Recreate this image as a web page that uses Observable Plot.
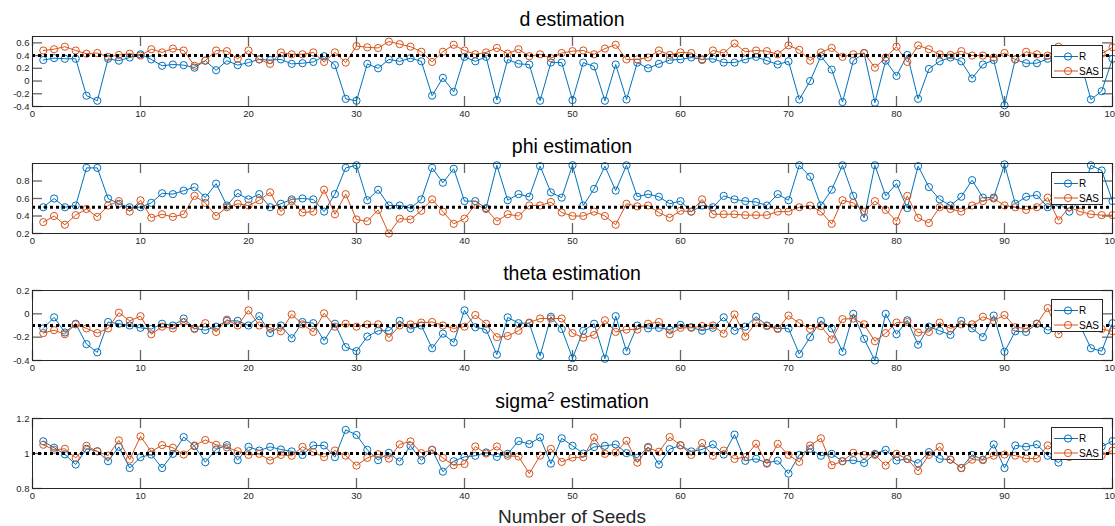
<!DOCTYPE html>
<html>
<head>
<meta charset="utf-8">
<script src="https://cdn.jsdelivr.net/npm/d3@7"></script>
<script src="https://cdn.jsdelivr.net/npm/@observablehq/plot@0.6"></script>
<style>
  html, body { margin: 0; padding: 0; background: #fff; overflow: hidden; }
  #wrap { position: relative; width: 1115px; height: 526px; font-family: "Liberation Sans", Arial, Helvetica, sans-serif; color: #262626; }
  .panel { position: absolute; left: 0; }
  .title { position: absolute; left: 32px; width: 1080px; text-align: center; font-size: 19.5px; line-height: 22px; color: #000; white-space: nowrap; }
  .title sup { font-size: 13px; line-height: 0; }
  .legend { position: absolute; left: 1051px; width: 52px; height: 33px; background: #fff; border: 1px solid #262626; box-sizing: border-box; }
  .xlabel { position: absolute; left: 32px; width: 1080px; text-align: center; font-size: 19px; line-height: 22px; color: #262626; top: 506px; }
</style>
</head>
<body>
<div id="wrap"></div>
<script>
// ---------- data ----------
const seeds = Array.from({length: 100}, (_, i) => i + 1);
const methods = ["R", "SAS"];
const xTicks = [0, 10, 20, 30, 40, 50, 60, 70, 80, 90, 100];

const dR = [0.33,0.36,0.35,0.35,-0.23,-0.31,0.35,0.32,0.37,0.42,
  0.34,0.24,0.26,0.25,0.21,0.32,0.17,0.32,0.25,0.29,
  0.34,0.33,0.34,0.27,0.28,0.30,0.39,0.25,-0.28,-0.31,
  0.27,0.20,0.34,0.31,0.36,0.31,-0.23,0.05,-0.17,0.38,
  0.31,0.38,-0.30,0.34,0.27,0.26,-0.31,0.29,0.29,-0.30,
  0.29,0.23,-0.31,0.26,-0.29,0.29,0.20,0.27,0.33,0.34,
  0.37,0.34,0.35,0.29,0.29,0.34,0.38,0.32,0.26,0.31,
  -0.29,0.00,0.39,0.18,-0.33,0.32,0.44,-0.34,0.32,0.08,
  0.41,-0.28,0.19,0.31,0.37,0.31,0.04,0.26,0.33,-0.38,
  0.34,0.28,0.28,0.35,0.36,0.30,0.33,-0.29,-0.16,0.35];
const dSAS = [0.48,0.50,0.54,0.48,0.43,0.44,0.38,0.41,0.43,0.40,
  0.50,0.45,0.51,0.48,0.24,0.32,0.48,0.47,0.35,0.48,
  0.34,0.27,0.45,0.42,0.42,0.45,0.30,0.45,0.29,0.55,
  0.53,0.52,0.62,0.58,0.54,0.46,0.30,0.46,0.57,0.48,
  0.42,0.45,0.52,0.43,0.50,0.39,0.42,0.36,0.44,0.47,
  0.48,0.42,0.51,0.57,0.34,0.34,0.37,0.48,0.41,0.45,
  0.44,0.33,0.48,0.44,0.59,0.46,0.48,0.47,0.42,0.56,
  0.49,0.32,0.45,0.52,0.38,0.42,0.44,0.21,0.37,0.54,
  0.30,0.56,0.50,0.42,0.41,0.47,0.40,0.40,0.37,0.44,
  0.34,0.46,0.42,0.40,0.54,0.45,0.42,0.40,0.43,0.53];

const phiR = [0.50,0.60,0.50,0.52,0.95,0.95,0.60,0.54,0.50,0.50,
  0.55,0.66,0.65,0.69,0.73,0.61,0.77,0.52,0.66,0.59,
  0.65,0.50,0.54,0.59,0.60,0.59,0.45,0.65,0.95,0.98,
  0.58,0.70,0.52,0.52,0.49,0.59,0.95,0.78,0.94,0.57,
  0.57,0.49,0.98,0.58,0.65,0.62,0.97,0.67,0.61,0.98,
  0.52,0.71,0.97,0.69,0.98,0.62,0.65,0.62,0.54,0.57,
  0.45,0.52,0.50,0.63,0.59,0.57,0.56,0.52,0.65,0.58,
  0.98,0.85,0.52,0.70,0.98,0.63,0.38,0.98,0.63,0.77,
  0.49,0.97,0.73,0.59,0.52,0.62,0.81,0.61,0.61,0.99,
  0.54,0.62,0.64,0.50,0.55,0.45,0.58,0.98,0.92,0.57];
const phiSAS = [0.33,0.40,0.30,0.41,0.48,0.39,0.52,0.57,0.45,0.58,
  0.38,0.42,0.39,0.42,0.63,0.55,0.40,0.50,0.54,0.52,
  0.58,0.67,0.45,0.57,0.44,0.45,0.70,0.42,0.65,0.36,
  0.34,0.47,0.20,0.37,0.36,0.46,0.59,0.45,0.31,0.37,
  0.53,0.48,0.34,0.42,0.40,0.52,0.52,0.56,0.44,0.40,
  0.40,0.45,0.40,0.30,0.54,0.51,0.52,0.44,0.38,0.46,
  0.45,0.59,0.42,0.42,0.42,0.41,0.41,0.41,0.45,0.45,
  0.50,0.52,0.45,0.31,0.58,0.55,0.45,0.57,0.47,0.34,
  0.63,0.38,0.32,0.50,0.48,0.45,0.52,0.57,0.60,0.52,
  0.50,0.47,0.50,0.61,0.35,0.50,0.45,0.42,0.41,0.41];

const thetaR = [-0.125,-0.03,-0.16,-0.085,-0.26,-0.33,-0.07,-0.085,-0.10,-0.12,
  -0.13,-0.085,-0.10,-0.04,-0.125,-0.14,-0.11,-0.06,-0.06,-0.10,
  -0.02,-0.165,-0.10,-0.21,-0.07,-0.08,-0.23,-0.085,-0.285,-0.32,
  -0.195,-0.145,-0.145,-0.06,-0.13,-0.10,-0.295,-0.17,-0.245,0.03,
  -0.115,-0.135,-0.35,-0.03,-0.08,-0.08,-0.36,-0.025,-0.13,-0.38,
  -0.145,-0.085,-0.385,-0.02,-0.32,-0.10,-0.125,-0.12,-0.135,-0.095,
  -0.115,-0.145,-0.12,-0.03,-0.145,-0.11,-0.025,-0.10,-0.125,-0.125,
  -0.345,-0.20,-0.06,-0.125,-0.325,0.00,-0.215,-0.40,0.00,-0.175,
  -0.055,-0.265,-0.11,-0.145,-0.18,-0.06,-0.125,-0.20,-0.015,-0.325,
  -0.15,-0.155,-0.085,-0.14,-0.12,-0.08,-0.10,-0.295,-0.32,-0.08];
const thetaSAS = [-0.165,-0.14,-0.175,-0.09,-0.125,-0.165,-0.125,0.01,-0.06,-0.02,
  -0.175,-0.11,-0.125,-0.07,-0.13,-0.08,-0.155,-0.05,-0.10,0.03,
  -0.10,-0.12,-0.15,-0.005,-0.09,-0.155,0.005,-0.11,-0.085,-0.11,
  -0.09,-0.09,-0.205,-0.10,-0.09,-0.075,-0.07,-0.10,-0.125,-0.11,
  -0.01,-0.085,-0.20,-0.19,-0.145,-0.075,-0.04,-0.04,-0.04,-0.165,
  -0.205,-0.18,-0.055,-0.155,-0.135,-0.135,-0.085,-0.07,-0.175,-0.12,
  -0.12,-0.105,-0.10,-0.17,-0.005,-0.195,-0.075,-0.105,-0.13,-0.015,
  -0.08,-0.13,-0.105,-0.22,-0.045,-0.04,-0.09,-0.235,-0.165,-0.075,
  -0.07,-0.16,-0.155,-0.075,-0.125,-0.09,-0.09,-0.025,-0.06,-0.01,
  -0.115,-0.125,-0.085,0.05,-0.175,-0.10,-0.08,-0.10,-0.13,-0.15];

const sigmaR = [1.07,1.033,0.995,0.937,1.027,1.013,0.956,1.038,0.917,0.979,
  0.994,0.917,0.998,1.094,1.042,0.95,1.023,1.048,0.962,1.038,
  1.017,1.038,1.023,1.012,0.992,1.046,1.046,0.979,1.135,1.106,
  1.021,0.962,1.004,0.954,1.044,0.96,1.021,0.896,0.956,0.981,
  0.987,1.006,0.981,0.998,1.071,1.054,1.092,0.942,1.087,1.044,
  1.0,1.037,1.044,1.052,1.002,0.975,1.037,0.937,1.025,1.046,
  1.012,1.023,1.052,0.994,1.108,0.958,0.970,0.946,0.959,0.885,
  0.992,1.027,0.987,0.998,0.956,0.962,0.946,0.998,1.021,0.96,
  0.969,0.944,1.008,0.969,0.965,0.917,0.992,0.965,1.052,0.917,
  1.046,1.038,1.052,0.987,0.948,1.0,1.05,1.05,1.04,1.071];
const sigmaSAS = [1.05,1.021,1.027,0.975,1.044,1.012,0.988,1.075,0.965,1.098,
  1.01,1.048,1.033,0.994,1.046,1.077,1.05,1.035,1.013,0.992,
  0.998,0.96,0.992,0.987,1.038,1.008,0.979,1.017,0.988,0.931,
  0.975,0.996,0.971,1.052,1.069,1.002,1.021,0.975,0.933,0.94,
  1.04,1.0,1.04,0.987,0.983,0.885,0.988,1.027,0.952,0.977,
  0.979,1.092,0.998,1.006,1.073,0.948,1.033,1.01,1.094,1.048,
  0.992,1.06,0.987,1.017,0.969,0.98,1.056,0.942,1.055,0.992,
  0.952,1.046,1.087,0.933,0.956,1.004,0.992,0.992,0.931,0.998,
  0.969,0.9,0.992,1.038,0.965,0.917,0.965,0.962,0.988,0.994,
  0.988,0.971,0.971,1.046,1.0,0.98,0.99,1.02,0.99,1.017];

const titles = ["d estimation", "phi estimation", "theta estimation", "sigma<sup>2</sup> estimation"];
const trueValues = [0.4, 0.5, -0.1, 1];
const yDomains = [[-0.4, 0.7], [0.2, 1.0], [-0.4, 0.2], [0.8, 1.2]];
const yTicks = [[-0.4, -0.2, 0, 0.2, 0.4, 0.6], [0.2, 0.4, 0.6, 0.8], [-0.4, -0.2, 0, 0.2], [0.8, 1, 1.2]];
const seriesR = [dR, phiR, thetaR, sigmaR];
const seriesSAS = [dSAS, phiSAS, thetaSAS, sigmaSAS];
const colors = ["#0072BD", "#D95319"];

// ---------- layout (style) ----------
const W = 1115, ML = 32, MR = 3, MT = 10, PH = 70, MB = 22;
const plotTops = [36, 163, 290, 418];
const tickLen = 10;
const fmt = d => String(+d.toFixed(2));

const wrap = document.getElementById("wrap");

function panel(i) {
  const rows = seeds.map((s, k) => ({seed: s, value: seriesR[i][k], method: "R"}))
    .concat(seeds.map((s, k) => ({seed: s, value: seriesSAS[i][k], method: "SAS"})));
  const R = rows.filter(d => d.method === "R");
  const S = rows.filter(d => d.method === "SAS");
  const innerW = W - ML - MR;
  return Plot.plot({
    width: W, height: MT + PH + MB,
    marginTop: MT, marginBottom: MB, marginLeft: ML, marginRight: MR,
    x: {domain: [0, 100], ticks: xTicks},
    y: {domain: yDomains[i], ticks: yTicks[i]},
    color: {domain: methods, range: colors},
    style: {fontFamily: "'Liberation Sans', Arial, Helvetica, sans-serif", fontSize: "9.5px", color: "#262626", background: "transparent", overflow: "visible"},
    marks: [
      Plot.tickX(xTicks, {x: d => d, insetTop: PH - tickLen, stroke: "#666", strokeWidth: 1.3}),
      Plot.tickX(xTicks, {x: d => d, insetBottom: PH - tickLen, stroke: "#666", strokeWidth: 1.3}),
      Plot.tickY(yTicks[i], {y: d => d, insetRight: innerW - tickLen, stroke: "#666", strokeWidth: 1.3}),
      Plot.tickY(yTicks[i], {y: d => d, insetLeft: innerW - tickLen, stroke: "#666", strokeWidth: 1.3}),
      Plot.axisX({ticks: xTicks, tickSize: 0, tickPadding: 4, tickFormat: d => String(d), label: null, fill: "#262626"}),
      Plot.axisY({ticks: yTicks[i], tickSize: 0, tickPadding: 3, tickFormat: fmt, label: null, fill: "#262626"}),
      Plot.line(R, {x: "seed", y: "value", stroke: "method", strokeWidth: 1}),
      Plot.dot(R, {x: "seed", y: "value", stroke: "method", r: 3.6, strokeWidth: 1}),
      Plot.line(S, {x: "seed", y: "value", stroke: "method", strokeWidth: 1}),
      Plot.dot(S, {x: "seed", y: "value", stroke: "method", r: 3.6, strokeWidth: 1}),
      Plot.ruleY([trueValues[i]], {y: d => d, x1: 0, x2: 100, stroke: "#000", strokeWidth: 3, strokeDasharray: "3,3"}),
      Plot.frame({stroke: "#262626", strokeWidth: 1})
    ]
  });
}

function legendHTML() {
  let s = '<svg width="50" height="31" style="display:block">';
  methods.forEach((m, k) => {
    const y = 10.5 + k * 14.5;
    s += `<line x1="2" x2="26" y1="${y}" y2="${y}" stroke="${colors[k]}" stroke-width="1"/>`;
    s += `<circle cx="16" cy="${y}" r="3.6" fill="none" stroke="${colors[k]}" stroke-width="1"/>`;
    s += `<text x="27" y="${y + 3.5}" font-size="10px" fill="#000" font-family="'Liberation Sans', Arial, sans-serif">${m}</text>`;
  });
  return s + '</svg>';
}

titles.forEach((t, i) => {
  const div = document.createElement("div");
  div.className = "panel";
  div.style.top = (plotTops[i] - MT) + "px";
  div.appendChild(panel(i));
  wrap.appendChild(div);

  const tt = document.createElement("div");
  tt.className = "title";
  tt.style.top = (plotTops[i] - 28) + "px";
  tt.innerHTML = t;
  wrap.appendChild(tt);

  const lg = document.createElement("div");
  lg.className = "legend";
  lg.style.top = (plotTops[i] + 9) + "px";
  lg.innerHTML = legendHTML();
  wrap.appendChild(lg);
});

const xl = document.createElement("div");
xl.className = "xlabel";
xl.textContent = "Number of Seeds";
wrap.appendChild(xl);
</script>
</body>
</html>
